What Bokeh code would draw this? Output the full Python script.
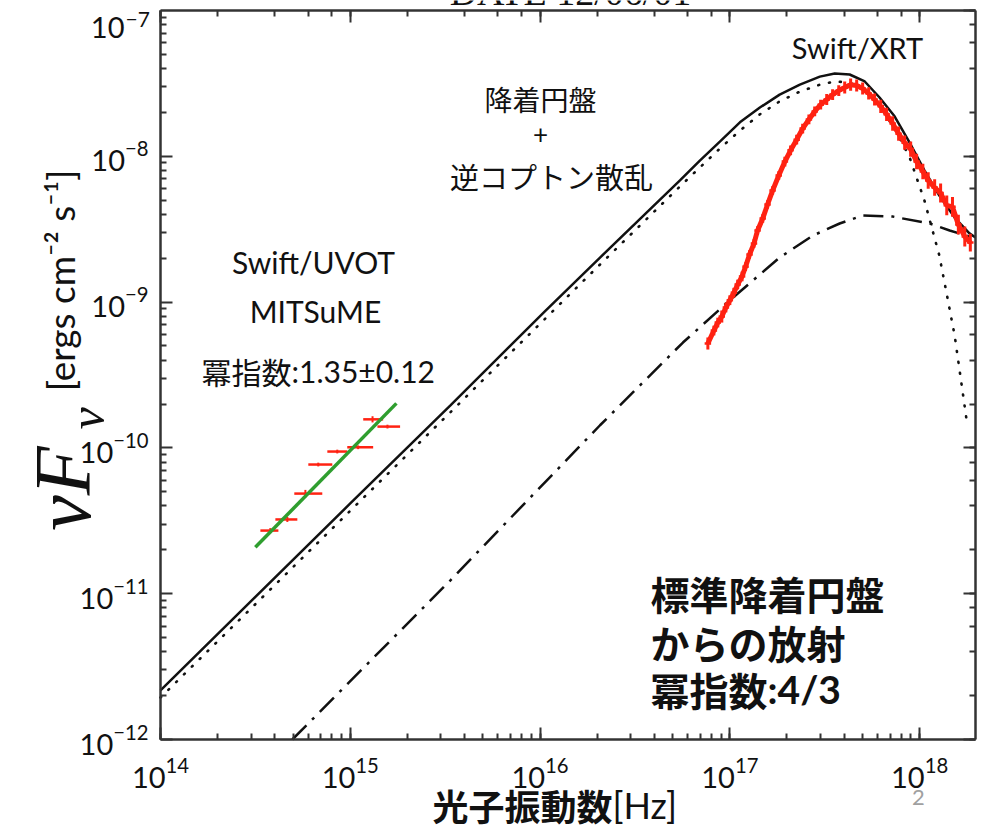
import math
from bokeh.plotting import figure
from bokeh.models import Label, LogAxis, Range1d, FixedTicker
from bokeh.embed import file_html
from bokeh.resources import INLINE

# ---------------- data ----------------
# total model (solid)
solid_nu = [1.0e14, 1.0e15, 3.36e15, 1.06e16, 2.07e16, 5.46e16, 6.95e16, 8.86e16, 1.13e17,
            1.44e17, 1.83e17, 2.34e17, 2.98e17, 3.57e17, 4.28e17, 5.14e17, 6.15e17, 7.38e17,
            8.86e17, 1.06e18, 1.27e18, 1.53e18, 1.83e18, 1.97e18]
solid_F = [2.17e-12, 4.16e-11, 1.95e-10, 8.63e-10, 2.02e-9, 6.83e-9, 9.35e-9, 1.26e-8, 1.71e-8,
           2.16e-8, 2.65e-8, 3.10e-8, 3.52e-8, 3.70e-8, 3.64e-8, 3.26e-8, 2.53e-8, 1.88e-8,
           1.24e-8, 8.00e-9, 5.38e-9, 3.80e-9, 2.96e-9, 2.77e-9]

# disk component (dotted)
disk_nu = [1.0e14, 3.36e15, 2.07e16, 5.46e16, 6.95e16, 8.86e16, 1.13e17, 1.44e17, 1.83e17,
           2.34e17, 2.98e17, 3.57e17, 4.28e17, 5.14e17, 6.15e17, 7.38e17, 8.86e17, 1.06e18,
           1.27e18, 1.53e18, 1.77e18]
disk_F = [1.94e-12, 1.75e-10, 1.81e-9, 6.21e-9, 8.38e-9, 1.13e-8, 1.50e-8, 1.94e-8, 2.38e-8,
          2.78e-8, 3.10e-8, 3.26e-8, 3.21e-8, 2.87e-8, 2.23e-8, 1.55e-8, 9.82e-9, 4.98e-9,
          2.09e-9, 5.90e-10, 1.54e-10]

# inverse Compton component (dash-dot)
comp_nu = [4.95e14, 3.36e15, 2.07e16, 5.66e16, 1.0e17, 1.83e17, 2.74e17, 3.79e17,
           5.01e17, 7.21e17, 1.13e18, 1.44e18, 1.97e18]
comp_F = [1.0e-12, 1.23e-11, 1.43e-10, 5.28e-10, 1.03e-9, 2.02e-9, 2.86e-9, 3.46e-9,
          3.93e-9, 3.86e-9, 3.46e-9, 3.10e-9, 2.73e-9]

# Swift/UVOT + MITSuME points
uvot_nu = [3.79e14, 4.66e14, 5.80e14, 6.78e14, 8.54e14, 1.10e15, 1.31e15, 1.57e15]
uvot_lo = [3.36e14, 4.03e14, 5.07e14, 6.01e14, 7.57e14, 9.64e14, 1.17e15, 1.39e15]
uvot_hi = [4.18e14, 5.26e14, 7.12e14, 8.04e14, 9.64e14, 1.32e15, 1.49e15, 1.83e15]
uvot_F = [2.71e-11, 3.23e-11, 4.86e-11, 7.69e-11, 9.44e-11, 1.01e-10, 1.57e-10, 1.40e-10]
uvot_err = [0.04, 0.04, 0.06, 0.03, 0.03, 0.03, 0.05, 0.03]

# power-law fit to optical/UV (green)
fit_nu = [3.16e14, 1.75e15]
fit_F = [2.08e-11, 2.02e-10]

# Swift/XRT spectrum
xrt_nu = [7.66e16, 8.24e16, 8.64e16, 9.07e16, 9.53e16, 1.00e17, 1.05e17, 1.10e17, 1.16e17, 1.21e17,
          1.27e17, 1.34e17, 1.40e17, 1.49e17, 1.58e17, 1.68e17, 1.81e17, 1.95e17, 2.09e17, 2.25e17,
          2.42e17, 2.61e17, 2.80e17, 3.01e17, 3.24e17, 3.48e17, 3.75e17, 4.03e17, 4.33e17, 4.66e17,
          5.01e17, 5.39e17, 5.79e17, 6.24e17, 6.70e17, 7.21e17, 7.75e17, 8.34e17, 8.97e17, 9.64e17,
          1.04e18, 1.11e18, 1.20e18, 1.29e18, 1.39e18, 1.49e18, 1.60e18, 1.73e18, 1.85e18]
xrt_F = [5.20e-10, 6.38e-10, 7.24e-10, 7.96e-10, 9.18e-10, 1.03e-9, 1.16e-9, 1.32e-9, 1.50e-9, 1.75e-9,
         2.12e-9, 2.52e-9, 3.10e-9, 3.74e-9, 4.67e-9, 5.82e-9, 7.38e-9, 9.20e-9, 1.10e-8, 1.30e-8,
         1.55e-8, 1.79e-8, 2.03e-8, 2.26e-8, 2.45e-8, 2.65e-8, 2.82e-8, 2.96e-8, 3.10e-8, 3.06e-8,
         2.92e-8, 2.70e-8, 2.45e-8, 2.20e-8, 1.94e-8, 1.68e-8, 1.43e-8, 1.24e-8, 1.12e-8, 9.20e-9,
         7.87e-9, 6.83e-9, 6.11e-9, 5.60e-9, 4.61e-9, 4.50e-9, 3.40e-9, 2.82e-9, 2.56e-9]
xrt_err = [0.10, 0.08, 0.08, 0.10, 0.08, 0.08, 0.08, 0.08, 0.08, 0.07,
           0.07, 0.07, 0.07, 0.07, 0.07, 0.07, 0.07, 0.08, 0.08, 0.08,
           0.08, 0.08, 0.08, 0.08, 0.09, 0.09, 0.09, 0.10, 0.10, 0.10,
           0.10, 0.10, 0.10, 0.11, 0.11, 0.12, 0.12, 0.12, 0.13, 0.13,
           0.13, 0.14, 0.14, 0.16, 0.17, 0.17, 0.17, 0.17, 0.15]
xrt_bin = 0.04  # relative half-width of energy bins

x_bounds = (1e14, 1.97e18)
y_bounds = (1e-12, 1e-7)
y_major = [1e-12, 1e-11, 1e-10, 1e-9, 1e-8]   # 10^-7 is labelled by hand (shifted like the reference)
y_minor = [k * 10.0 ** e for e in range(-12, -7) for k in range(2, 10)]

# ---------------- geometry ----------------
W, H = 994, 829
FL, FR, FT, FB = 160, 975, 10, 739      # plot box in pixels
lx0, lx1 = math.log10(x_bounds[0]), math.log10(x_bounds[1])
ly0, ly1 = math.log10(y_bounds[0]), math.log10(y_bounds[1])
kx = (FR - FL) / (lx1 - lx0)           # px per decade
ky = (FB - FT) / (ly1 - ly0)


def dx(px):
    return 10 ** (lx0 + (px - FL) / kx)


def dy(py):
    return 10 ** (ly0 + (FB - py) / ky)


# the frame covers the whole canvas; the axes are pinned to the box edges
p = figure(width=W, height=H, x_axis_type="log", y_axis_type="log",
           x_range=Range1d(dx(0), dx(W)), y_range=Range1d(dy(H), dy(0)),
           output_backend="svg", toolbar_location=None,
           min_border=0, min_border_left=0, min_border_right=0,
           min_border_top=0, min_border_bottom=0)
p.xgrid.visible = False
p.ygrid.visible = False
p.background_fill_color = "white"
p.border_fill_color = "white"
p.outline_line_color = None

bottom = p.below[0]
left = p.left[0]
left.ticker = FixedTicker(ticks=y_major, minor_ticks=y_minor)
bottom.fixed_location = y_bounds[0]
bottom.bounds = x_bounds
left.fixed_location = x_bounds[0]
left.bounds = y_bounds

top = LogAxis(fixed_location=y_bounds[1], bounds=x_bounds)
right = LogAxis(fixed_location=x_bounds[1], bounds=y_bounds)
p.add_layout(top, "above")
p.add_layout(right, "right")

for ax in (bottom, left, top, right):
    ax.axis_line_color = "#333333"
    ax.axis_line_width = 2.5
    ax.major_tick_in = 12
    ax.major_tick_out = 0
    ax.minor_tick_in = 6
    ax.minor_tick_out = 0
    ax.major_tick_line_width = 2
    ax.minor_tick_line_width = 2
    ax.major_tick_line_color = "#333333"
    ax.minor_tick_line_color = "#333333"
    ax.major_label_text_font = "Lato"
    ax.major_label_text_color = "#111111"

for ax in (top, right):
    ax.major_label_text_font_size = "1px"
    ax.major_label_text_alpha = 0.0
    ax.major_label_standoff = 0

bottom.major_label_text_font_size = "29px"
bottom.major_label_standoff = 18
left.major_label_text_font_size = "29px"
left.major_label_standoff = 12

# ---------------- marks ----------------
RED = "#ff2212"
p.line(solid_nu, solid_F, line_color="#111111", line_width=2.5)
p.line(disk_nu, disk_F, line_color="#111111", line_width=2.6, line_dash="1 10", line_cap="round")
p.line(comp_nu, comp_F, line_color="#111111", line_width=2.5, line_dash="20 8 3 8")

# XRT spectrum: band + vertical error bars + horizontal bin bars
p.line(xrt_nu, xrt_F, line_color=RED, line_width=5)
p.segment(x0=xrt_nu, x1=xrt_nu,
          y0=[f / (1 + e) for f, e in zip(xrt_F, xrt_err)],
          y1=[f * (1 + e) for f, e in zip(xrt_F, xrt_err)],
          line_color=RED, line_width=3)
p.segment(x0=[n / (1 + xrt_bin) for n in xrt_nu], x1=[n * (1 + xrt_bin) for n in xrt_nu],
          y0=xrt_F, y1=xrt_F, line_color=RED, line_width=2.5)

# UVOT / MITSuME
p.segment(x0=uvot_lo, x1=uvot_hi, y0=uvot_F, y1=uvot_F, line_color=RED, line_width=2.5)
p.segment(x0=uvot_nu, x1=uvot_nu,
          y0=[f / (1 + e) for f, e in zip(uvot_F, uvot_err)],
          y1=[f * (1 + e) for f, e in zip(uvot_F, uvot_err)],
          line_color=RED, line_width=2)
p.line(fit_nu, fit_F, line_color="#2f9e2f", line_width=3.5)

# ---------------- texts ----------------
JP = "Noto Sans CJK JP"


def lab(px, py, text, size, font=JP, align="center", style="normal", angle=0.0,
        color="#111111", baseline="middle"):
    p.add_layout(Label(x=dx(px), y=dy(py), text=text, text_align=align,
                       text_baseline=baseline, text_font=font,
                       text_font_size=f"{size}px", text_font_style=style,
                       text_color=color, angle=angle))


lab(857, 47, "Swift/XRT", 29, font="Lato")
lab(540, 98, "降着円盤", 28)
lab(540, 133, "+", 26, font="Lato")
lab(551, 175, "逆コプトン散乱", 29)
lab(313, 261, "Swift/UVOT", 30, font="Lato")
lab(315, 310, "MITSuME", 30, font="Lato")
lab(201, 370, "冪指数", 30, align="left")
lab(291, 370, ":1.35±0.12", 30, font="Lato", align="left")

lab(650, 592, "標準降着円盤", 39, align="left", style="bold")
lab(650, 641, "からの放射", 39, align="left", style="bold")
lab(650, 688, "冪指数", 39, align="left", style="bold")
lab(767, 688, ":4/3", 39, font="Lato", align="left", style="bold")

# hand-placed top tick label (10^-7), shifted down as in the reference
lab(124, 27, "10", 29, font="Lato", align="right")
lab(125, 19, "−7", 21, font="Lato", align="left")

# x axis title
lab(432, 804, "光子振動数", 36, align="left", style="bold")
lab(612, 804, "[Hz]", 36, font="Lato", align="left")
lab(918, 797, "2", 22, font="Lato", color="#a0a0a0")

# y axis title
lab(60, 280, "[ergs cm⁻² s⁻¹]", 37, font="Lato", angle=math.pi / 2)
lab(62, 488, "νF", 80, font="Liberation Serif", style="italic", angle=math.pi / 2)
lab(86, 418, "ν", 50, font="Liberation Serif", style="italic", angle=math.pi / 2)

# partially visible title at the very top
lab(570, -9, "DATE 12/06/01", 38, font="Liberation Serif", baseline="alphabetic")

open("out.html", "w").write(file_html(p, INLINE))
